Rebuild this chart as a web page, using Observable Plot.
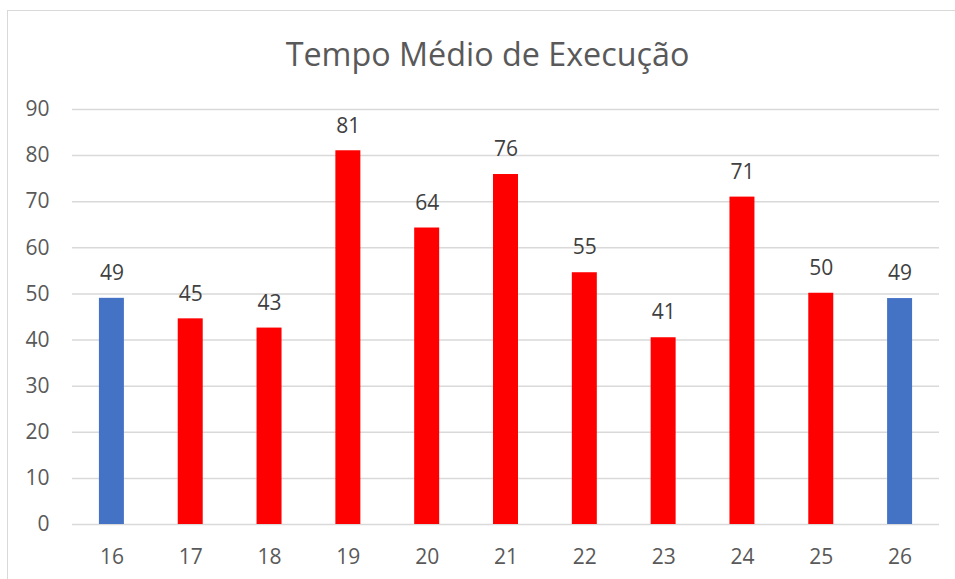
<!DOCTYPE html>
<html>
<head>
<meta charset="utf-8">
<script src="https://cdn.jsdelivr.net/npm/d3@7"></script>
<script src="https://cdn.jsdelivr.net/npm/@observablehq/plot@0.6"></script>
<style>
  html, body { margin: 0; padding: 0; background: #fff; overflow: hidden; }
  #frame { position: absolute; left: 7px; top: 10px; width: 1000px; height: 700px; border: 1px solid #d9d9d9; box-sizing: border-box; }
  #title { position: absolute; left: 0; width: 975px; top: 37px; text-align: center; font-family: "Open Sans", sans-serif; font-size: 32.3px; line-height: 1; color: #595959; white-space: nowrap; }
  #chart { position: absolute; left: 0; top: 0; }
</style>
</head>
<body>
<div id="frame"></div>
<div id="title">Tempo Médio de Execução</div>
<div id="chart"></div>
<script>
const categories = ["16", "17", "18", "19", "20", "21", "22", "23", "24", "25", "26"];
const values = [49.05, 44.6, 42.6, 81.05, 64.3, 75.9, 54.6, 40.5, 71.0, 50.15, 49.0];
const labels = ["49", "45", "43", "81", "64", "76", "55", "41", "71", "50", "49"];
const highlight = ["16", "26"];
const yTicks = [0, 10, 20, 30, 40, 50, 60, 70, 80, 90];

const data = categories.map((c, i) => ({cat: c, value: values[i], label: labels[i], kind: highlight.includes(c) ? "extremo" : "meio"}));

const chart = Plot.plot({
  width: 955,
  height: 579,
  marginLeft: 72,
  marginRight: 16,
  marginTop: 109,
  marginBottom: 55,
  style: {fontFamily: "'Open Sans', sans-serif", fontSize: "21px", color: "#595959", background: "transparent"},
  x: {domain: categories, paddingInner: 0.683, paddingOuter: 0.3415, round: false, label: null},
  y: {domain: [0, 90], label: null},
  color: {domain: ["extremo", "meio"], range: ["#4472C4", "#FF0000"]},
  marks: [
    Plot.gridY(yTicks, {stroke: "#d9d9d9", strokeOpacity: 1, strokeWidth: 1.5}),
    Plot.barY(data, {x: "cat", y: "value", fill: "kind"}),
    Plot.text(data, {x: "cat", y: "value", text: "label", dy: -25, fill: "#404040", fontSize: 21}),
    Plot.axisX({tickSize: 0, tickPadding: 25, fontSize: 21, fill: "#595959"}),
    Plot.axisY(yTicks, {tickSize: 0, tickPadding: 23, fontSize: 21, fill: "#595959"})
  ]
});
document.getElementById("chart").appendChild(chart);
</script>
</body>
</html>
